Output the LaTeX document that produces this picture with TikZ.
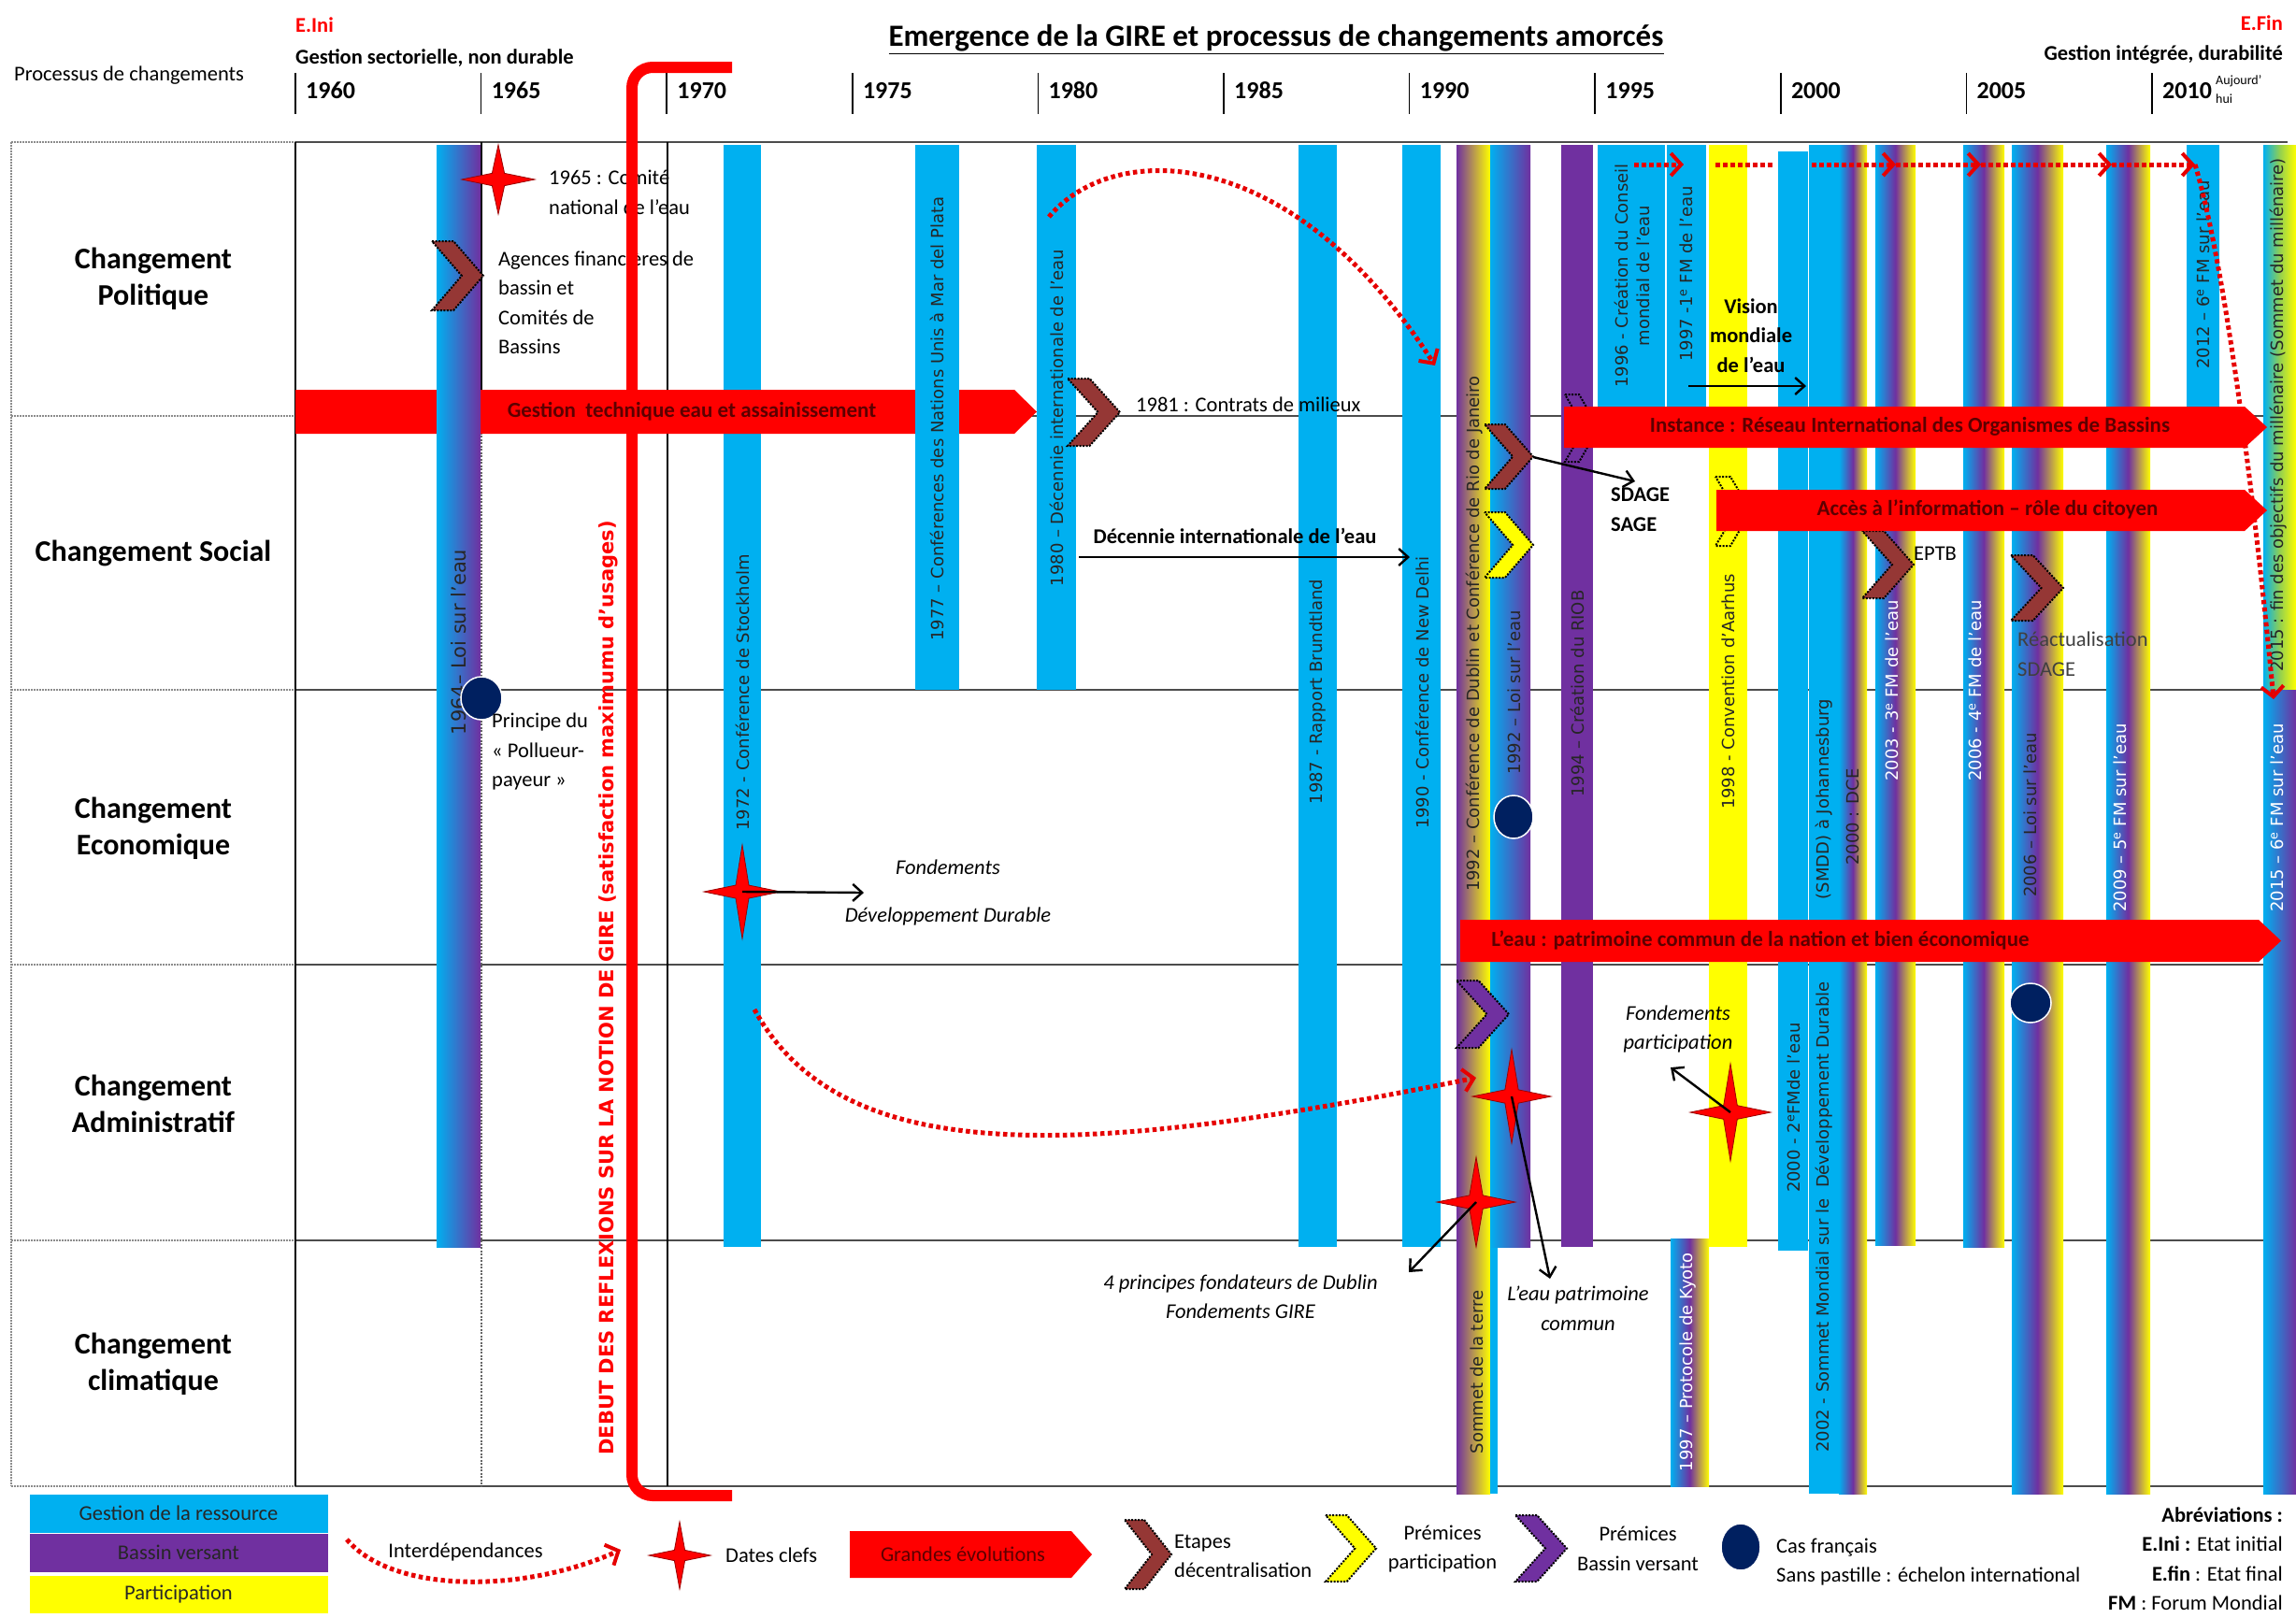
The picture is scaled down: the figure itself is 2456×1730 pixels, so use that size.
\documentclass[tikz,border=0pt]{standalone}
\usepackage{fontspec}
\setmainfont{Carlito}
\newfontfamily\dvs{DejaVu Sans}
\usetikzlibrary{arrows.meta}
\definecolor{cy}{HTML}{00B0F0}
\definecolor{pu}{HTML}{7030A0}
\definecolor{ye}{HTML}{FFFF00}
\definecolor{gn}{HTML}{92D050}
\definecolor{br}{HTML}{953735}
\definecolor{nv}{HTML}{002060}
\definecolor{dr}{HTML}{5C0000}
\definecolor{rdot}{HTML}{E60000}
\newcommand\chevshape[5]{\path[chev,fill=#5] (#1,#2) -- ({#1+0.42*(#3-#1)},#2) -- (#3,{(#2+#4)/2}) -- ({#1+0.42*(#3-#1)},#4) -- (#1,#4) -- ({#3-0.42*(#3-#1)},{(#2+#4)/2}) -- cycle;}
\newcommand\redstar[4]{\path[starst] (#1,{#2-#4}) -- ({#1+0.17*#3},{#2-0.17*#3}) -- ({#1+#3},#2) -- ({#1+0.17*#3},{#2+0.17*#3}) -- (#1,{#2+#4}) -- ({#1-0.17*#3},{#2+0.17*#3}) -- ({#1-#3},#2) -- ({#1-0.17*#3},{#2-0.17*#3}) -- cycle;}
\newcommand\redarrow[5]{\fill[red] (#1,#3) -- ({#2-#5},#3) -- (#2,{(#3+#4)/2}) -- ({#2-#5},#4) -- (#1,#4) -- cycle;}
\tikzset{
 t/.style={font=\fontsize{22.5}{31.5}\selectfont, inner sep=0pt},
 tb/.style={font=\bfseries\fontsize{22.5}{31.5}\selectfont, inner sep=0pt},
 ti/.style={font=\itshape\fontsize{22.5}{31.5}\selectfont, inner sep=0pt, align=center},
 yr/.style={font=\bfseries\fontsize{26}{30}\selectfont, inner sep=0pt},
 rowlab/.style={font=\bfseries\fontsize{32}{39}\selectfont, align=center, inner sep=0pt},
 vlab/.style={font=\dvs\fontsize{18}{23}\selectfont, rotate=90, inner sep=0pt, text=black!85, align=center},
 vlabw/.style={vlab, text=white},
 arrtxt/.style={font=\bfseries\fontsize{23}{28}\selectfont, text=dr, inner sep=0pt},
 blk/.style={draw=black, line width=2.4pt, -{Straight Barb[length=10pt,width=18pt,line width=2.4pt]}},
 reddot/.style={draw=rdot, line width=5pt, dash pattern=on 4.5pt off 3.5pt, -{Straight Barb[length=11pt,width=24pt,line width=4pt]}},
 reddotn/.style={draw=rdot, line width=5pt, dash pattern=on 4.5pt off 3.5pt},
 rowline/.style={draw=black!70, line width=2.5pt},
 leftdash/.style={draw=black!45, line width=1.5pt, dash pattern=on 2pt off 1pt},
 vline/.style={draw=black, line width=1.5pt},
 vdash/.style={draw=black!60, line width=1.2pt, dash pattern=on 2pt off 1.5pt},
 tick/.style={draw=black, line width=1.5pt},
 chev/.style={draw=black, line width=2pt, dash pattern=on 2pt off 1.5pt},
 starst/.style={fill=red, draw=red!60!black, line width=0.8pt},
 dot/.style={fill=nv, draw=white, line width=1.5pt},
 gbp/.style={left color=cy, right color=pu},
 gbpy/.style={left color=cy, right color=ye, middle color=pu},
 gbgy/.style={left color=cy, right color=ye, middle color=gn},
}
\begin{document}
\begin{tikzpicture}[x=1pt,y=-1pt]
\useasboundingbox (0,0) rectangle (2456,1730);
\fill[white] (0,0) rectangle (2456,1730);

% ---------- header ----------
\node[t, anchor=west] (proc) at (15,81) {Processus de changements};
\node[tb, anchor=west, text=red] (eini) at (316,27) {E.Ini};
\node[tb, anchor=west] (gsec) at (316,62) {Gestion sectorielle, non durable};
\node[font=\bfseries\fontsize{33}{40}\selectfont, inner sep=0pt] (title) at (1365,42) {\underline{Emergence de la GIRE et processus de changements amorcés}};
\node[tb, anchor=east, text=red] (efin) at (2442,25) {E.Fin};
\node[tb, anchor=east] (gint) at (2442,58) {Gestion intégrée, durabilité};
\foreach \k/\yr in {0/1960,1/1965,2/1970,3/1975,4/1980,5/1985,6/1990,7/1995,8/2000,9/2005,10/2010}{
  \draw[tick] ({316+198.6*\k},78) -- ({316+198.6*\k},122);
  \node[yr, anchor=west] (y\yr) at ({327+198.6*\k},97) {\yr};
}
\node[font=\fontsize{14}{20}\selectfont, align=left, anchor=north west, inner sep=0pt] (auj) at (2370,80) {Aujourd’\\hui};

% ---------- grid ----------
\foreach \yy in {152,445,738,1032,1327,1590}{
  \draw[rowline] (316,\yy) -- (2447,\yy);
  \draw[leftdash] (12,\yy) -- (316,\yy);
}
\draw[leftdash] (12,152) -- (12,1590);
\draw[vline] (316,152) -- (316,1590);
\draw[vline] (515,152) -- (515,445);
\draw[vdash] (515,445) -- (515,1590);
\draw[vline] (714,152) -- (714,1590);

\node[rowlab] (rpol) at (164,298) {Changement\\Politique};
\node[rowlab] (rsoc) at (164,592) {Changement Social};
\node[rowlab] (reco) at (164,886) {Changement\\Economique};
\node[rowlab] (radm) at (164,1181) {Changement\\Administratif};
\node[rowlab] (rcli) at (164,1459) {Changement\\climatique};

% ---------- bars ----------
\fill[cy] (774,155) rectangle (814,1334);
\redarrow{316}{1109}{417}{464}{24}
\shade[gbp] (467,155) rectangle (514,1334);
\fill[cy] (979,155) rectangle (1026,738);
\fill[cy] (1109,155) rectangle (1151,738);
\fill[cy] (1389,155) rectangle (1430,1334);
\fill[cy] (1500,155) rectangle (1541,1334);
\shade[left color=pu, right color=ye] (1558,155) rectangle (1594,1598);
\fill[cy] (1594,1334) rectangle (1602,1598);
\shade[gbp] (1594,155) rectangle (1637,1334);
\fill[pu] (1670,155) rectangle (1704,1334);
\fill[cy] (1709,155) rectangle (1781,440);
\fill[cy] (1783,155) rectangle (1825,440);
\shade[gbpy] (1787,1325) rectangle (1828,1590);
\fill[ye] (1828,155) rectangle (1869,1334);
\fill[cy] (1902,162) rectangle (1934,1338);
\fill[cy] (1935,155) rectangle (1967,1598);
\shade[gbpy] (1967,155) rectangle (1997,1598);
\shade[gbpy] (2006,155) rectangle (2049,1332);
\shade[gbpy] (2100,155) rectangle (2144,1334);
\shade[gbpy] (2152,155) rectangle (2207,1598);
\shade[gbpy] (2253,155) rectangle (2300,1598);
\fill[cy] (2339,155) rectangle (2374,440);
\shade[gbgy] (2421,155) rectangle (2456,738);
\shade[gbp] (2421,738) rectangle (2456,1598);

% ---------- bar labels ----------
\node[vlab, font=\dvs\fontsize{21}{25}\selectfont] (l64) at (491,687) {1964– Loi sur l’eau};
\node[vlab] (l72) at (794,741) {1972 - Conférence de Stockholm};
\node[vlab] (l77) at (1002,448) {1977 – Conférences des Nations Unis à Mar del Plata};
\node[vlab] (l80) at (1130,447) {1980 – Décennie internationale de l’eau};
\node[vlab] (l87) at (1410,740) {1987 - Rapport Brundtland};
\node[vlab] (l90) at (1521,741) {1990 - Conférence de New Delhi};
\node[vlab] (ldub) at (1577,678) {1992 – Conférence de Dublin et Conférence de Rio de Janeiro};
\node[vlab] (lsom) at (1580,1468) {Sommet de la terre};
\node[vlab] (l92) at (1620,741) {1992 – Loi sur l’eau};
\node[vlab] (l94) at (1687,742) {1994 – Création du RIOB};
\node[vlab] (l96) at (1746,295) {1996 - Création du Conseil\\mondial de l’eau};
\node[vlab] (l97) at (1804,293) {1997 -1\textsuperscript{e} FM de l’eau};
\node[vlabw] (lky) at (1806,1457) {1997 – Protocole de Kyoto};
\node[vlab] (l98) at (1849,740) {1998 - Convention d’Aarhus};
\node[vlab] (l00) at (1919,1185) {2000 - 2\textsuperscript{e}FMde l’eau};
\node[vlab] (l02a) at (1951,855) {(SMDD) à Johannesburg};
\node[vlab] (l02b) at (1951,1302) {2002 - Sommet Mondial sur le\ \ Développement Durable};
\node[vlab] (ldce) at (1982,874) {2000 : DCE};
\node[vlabw] (l03) at (2024,739) {2003 - 3\textsuperscript{e} FM de l’eau};
\node[vlabw] (l06a) at (2113,739) {2006 - 4\textsuperscript{e} FM de l’eau};
\node[vlab] (l06b) at (2172,872) {2006 – Loi sur l’eau};
\node[vlabw] (l09) at (2268,875) {2009 – 5\textsuperscript{e} FM sur l’eau};
\node[vlab] (l12) at (2357,294) {2012 – 6\textsuperscript{e} FM sur l’eau};
\node[vlab] (l15a) at (2437,444) {2015 : fin des objectifs du millénaire (Sommet du millénaire)};
\node[vlabw] (l15b) at (2436,875) {2015 – 6\textsuperscript{e} FM sur l’eau};

% ---------- top dotted arrows ----------
\coordinate (d0) at (1748,176);
\coordinate (d1) at (1801,176);
\coordinate (d2) at (1835,176);
\coordinate (d3) at (1898,176);
\coordinate (d4) at (1938,176);
\coordinate (d5) at (2028,176);
\coordinate (d6) at (2119,176);
\coordinate (d7) at (2259,176);
\coordinate (d8) at (2348,176);
\coordinate (d9) at (2432,748);
\draw[reddot] (d0) -- (d1);
\draw[reddotn] (d2) -- (d3);
\draw[reddot] (d4) -- (d5);
\draw[reddot] (d5) -- (d6);
\draw[reddot] (d6) -- (d7);
\draw[reddot] (d7) -- (d8);
\draw[reddot] (d8) .. controls (2385,300) and (2418,600) .. (d9);

% ---------- chevrons behind arrows ----------
\chevshape{1674}{422}{1710}{494}{none}
\chevshape{1835}{510}{1873}{584}{none}
\chevshape{1992}{568}{2047}{640}{br}

% ---------- big red arrows ----------
\redarrow{1673}{2425}{435}{479}{24}
\node[arrtxt] (ains) at (2043,456) {Instance : Réseau International des Organismes de Bassins};
\redarrow{1836}{2425}{524}{568}{24}
\node[arrtxt] (aacc) at (2126,545) {Accès à l’information – rôle du citoyen};
\redarrow{1562}{2440}{984}{1029}{24}
\node[arrtxt] (aeau) at (1883,1006) {L’eau : patrimoine commun de la nation et bien économique};

% ---------- other chevrons ----------
\chevshape{462}{258}{517}{332}{br}
\chevshape{1142}{405}{1198}{477}{br}
\chevshape{1588}{454}{1640}{523}{br}
\chevshape{1588}{548}{1640}{618}{ye}
\chevshape{2151}{594}{2207}{664}{br}
\chevshape{1558}{1049}{1614}{1121}{pu}

% ---------- dots ----------
\path[dot] (515,747) ellipse [x radius=22pt, y radius=23pt];
\path[dot] (1619,874) ellipse [x radius=21pt, y radius=23pt];
\path[dot] (2172,1073) ellipse [x radius=22pt, y radius=21pt];

% ---------- stars ----------
\redstar{533}{192}{39}{37}
\coordinate (s65) at (533,192);
\redstar{794}{954}{41}{50}
\coordinate (s72) at (794,954);
\redstar{1617}{1173}{42}{50}
\coordinate (s92a) at (1617,1173);
\redstar{1579}{1286}{42}{48}
\coordinate (s92b) at (1579,1286);
\redstar{1851}{1190}{43}{52}
\coordinate (s98) at (1851,1190);

% ---------- texts ----------
\node[t, anchor=west, align=left] (t65) at (587,206) {1965 : Comité\\national de l’eau};
\node[t, anchor=west, align=left] (tag) at (533,324) {Agences financières de\\bassin et\\Comités de\\Bassins};
\node[t, anchor=west, align=left] (tpp) at (526,804) {Principe du\\« Pollueur-\\payeur »};
\node[t, anchor=west] (t81) at (1215,433) {1981 : Contrats de milieux};
\node[tb] (tdec) at (1321,573) {Décennie internationale de l’eau};
\coordinate (dec0) at (1154,596);
\coordinate (dec1) at (1508,596);
\draw[blk] (dec0) -- (dec1);
\node[tb, anchor=west, align=left] (tsd) at (1723,545) {SDAGE\\SAGE};
\coordinate (ch92) at (1640,489);
\coordinate (sd1) at (1749,515);
\draw[blk] (ch92) -- (sd1);
\node[tb, align=center] (tvis) at (1873,359) {Vision\\mondiale\\de l’eau};
\coordinate (vis0) at (1806,413);
\coordinate (vis1) at (1932,413);
\draw[blk] (vis0) -- (vis1);
\node[t, anchor=west] (teptb) at (2047,592) {EPTB};
\node[t, anchor=west, align=left, text=black!75] (trea) at (2158,700) {Réactualisation\\SDAGE};
\node[ti] (tf1) at (1014,928) {Fondements};
\node[ti] (tf2) at (1014,980) {Développement Durable};
\coordinate (fd1) at (924,955);
\draw[blk] (s72) -- (fd1);
\node[ti] (tfp) at (1795,1101) {Fondements\\participation};
\coordinate (fp1) at (1787,1142);
\draw[blk] (s98) -- (fp1);
\node[ti] (tlp) at (1688,1400) {L’eau patrimoine\\commun};
\coordinate (lp1) at (1658,1368);
\draw[blk] (s92a) -- (lp1);
\node[ti] (tdub) at (1327,1387) {4 principes fondateurs de Dublin\\Fondements GIRE};
\coordinate (db1) at (1507,1361);
\draw[blk] (s92b) -- (db1);

% ---------- interdependency curves ----------
\coordinate (c1a) at (1122,232);
\coordinate (c1b) at (1535,391);
\draw[reddot] (c1a) .. controls (1190,150) and (1380,150) .. (c1b);
\coordinate (c2a) at (807,1080);
\coordinate (c2b) at (1579,1153);
\draw[reddot] (c2a) .. controls (900,1250) and (1150,1240) .. (c2b);

% ---------- gestion technique text and DEBUT bracket ----------
\draw[red, line width=12pt, rounded corners=22pt] (783,72) -| (676,1600) -- (783,1600);
\node[arrtxt] (agt) at (740,440) {Gestion\ \ technique eau et assainissement};
\node[font=\dvs\bfseries\fontsize{21}{25}\selectfont, text=red, rotate=90, inner sep=0pt] (debut) at (651,1057) {DEBUT DES REFLEXIONS SUR LA NOTION DE GIRE (satisfaction maximumu d’usages)};

% ---------- legend ----------
\fill[cy] (32,1599) rectangle (351,1640);
\node[t, text=black!85] (lg1) at (191,1619) {Gestion de la ressource};
\fill[pu] (32,1641) rectangle (351,1682);
\node[t, text=black!85] (lg2) at (191,1661) {Bassin versant};
\fill[ye] (32,1686) rectangle (351,1726);
\node[t, text=black!85] (lg3) at (191,1706) {Participation};
\coordinate (li0) at (371,1647);
\coordinate (li1) at (664,1658);
\draw[reddot] (li0) .. controls (420,1705) and (560,1705) .. (li1);
\node[t] (lint) at (498,1660) {Interdépendances};
\redstar{727}{1664}{33}{36}
\node[t, anchor=west] (ldc) at (776,1664) {Dates clefs};
\redarrow{909}{1168}{1638}{1688}{22}
\node[t, text=dr] (lge) at (1030,1663) {Grandes évolutions};
\chevshape{1203}{1626}{1253}{1700}{br}
\node[t, anchor=west, align=left] (let) at (1256,1665) {Etapes\\décentralisation};
\chevshape{1418}{1621}{1472}{1692}{ye}
\node[t, align=center] (lpp) at (1543,1657) {Prémices\\participation};
\chevshape{1621}{1621}{1676}{1692}{pu}
\node[t, align=center] (lpb) at (1752,1657) {Prémices\\Bassin versant};
\path[dot] (1862,1655) ellipse [x radius=21pt, y radius=25pt];
\node[t, anchor=west, align=left] (lcf) at (1900,1671) {Cas français\\Sans pastille : échelon international};
\node[t, anchor=north east, align=right] (labr) at (2442,1612) {\textbf{Abréviations :}\\\textbf{E.Ini :} Etat initial\\\textbf{E.fin} : Etat final\\\textbf{FM} : Forum Mondial};
\end{tikzpicture}
\end{document}
